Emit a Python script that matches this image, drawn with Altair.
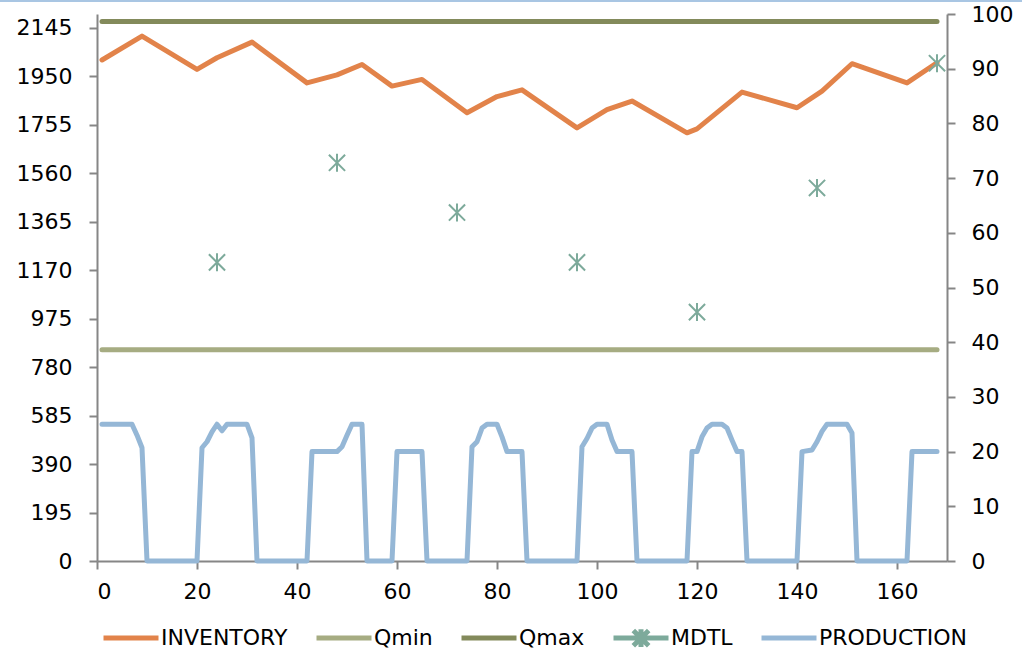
import altair as alt
import pandas as pd

# ---------------- data ----------------
series_names = ["INVENTORY", "Qmin", "Qmax", "MDTL", "PRODUCTION"]
series_colors = ["#E2834A", "#A6AC82", "#838A5B", "#7DAA9B", "#95B7D6"]

# inventory (left axis), vertices of the polyline
inv_t = [1, 9, 20, 24, 31, 42, 48, 53, 59, 65, 74, 80, 85, 96, 102, 107,
         118, 120, 129, 140, 145, 151, 162, 168]
inv_v = [2015, 2111, 1977, 2024, 2087, 1923, 1955, 1997, 1910, 1937, 1803,
         1868, 1895, 1742, 1815, 1850, 1722, 1738, 1886, 1823, 1890, 2000,
         1923, 2004]

# limits (left axis)
q_t = [1, 168]
qmin_v = [850, 850]
qmax_v = [2170, 2170]

# MDTL (right axis)
mdtl_t = [24, 48, 72, 96, 120, 144, 168]
mdtl_v = [54.6, 72.8, 63.7, 54.6, 45.5, 68.2, 91.0]

# production (right axis), vertices of the polyline
prod_t = [1, 7, 8, 9, 10,
          20, 21, 22, 23, 24, 25, 26, 30, 31, 32,
          42, 43, 48, 49, 50, 51, 53, 54,
          59, 60, 65, 66,
          74, 75, 76, 77, 78, 80, 81, 82, 85, 86,
          96, 97, 98, 99, 100, 102, 103, 104, 107, 108,
          118, 119, 120, 121, 122, 123, 125, 126, 127, 128, 129, 130,
          140, 141, 143, 144, 145, 146, 150, 151, 152,
          162, 163, 168]
prod_v = [25, 25, 23, 20.7, 0,
          0, 20.7, 21.8, 23.6, 25, 23.8, 25, 25, 22.5, 0,
          0, 20, 20, 20.9, 23, 25, 25, 0,
          0, 20, 20, 0,
          0, 20.9, 21.8, 24.3, 25, 25, 22.7, 20, 20, 0,
          0, 20.9, 22.4, 24.3, 25, 25, 22.1, 20, 20, 0,
          0, 20, 20, 22.7, 24.3, 25, 25, 24.3, 22.1, 20, 20, 0,
          0, 20, 20.3, 21.8, 23.7, 25, 25, 23.4, 0,
          0, 20, 20]

x_ticks = [0, 20, 40, 60, 80, 100, 120, 140, 160]
left_ticks = [0, 195, 390, 585, 780, 975, 1170, 1365, 1560, 1755, 1950, 2145]
right_ticks = [0, 10, 20, 30, 40, 50, 60, 70, 80, 90, 100]

# ---------------- styling ----------------
FONT = "DejaVu Sans"
AXIS_GREY = "#868686"
STAR = "M0,-1L0,1M-0.9,-0.9L0.9,0.9M-0.9,0.9L0.9,-0.9"
# invisible zero-length segments give every legend symbol the same height
LINE_SYM = "M-1,0L1,0M0,-0.32L0,-0.32M0,0.32L0,0.32"
MDTL_SYM = "M-1,0L1,0M0,-0.32L0,0.32M-0.28,-0.28L0.28,0.28M-0.28,0.28L0.28,-0.28"

x_enc = alt.X("t:Q", scale=alt.Scale(domain=[0, 170], nice=False, zero=False),
              axis=alt.Axis(values=x_ticks, orient="bottom", labelPadding=12,
                            title=None))

left_scale = alt.Scale(domain=[0, 2200], nice=False, zero=True)
left_axis = alt.Axis(values=left_ticks, orient="left", labelPadding=17,
                     format="d", title=None)
right_scale = alt.Scale(domain=[0, 100], nice=False, zero=True)
right_axis = alt.Axis(values=right_ticks, orient="right", labelPadding=16,
                      format="d", title=None)

line_style = dict(strokeWidth=5, strokeCap="round", strokeJoin="round")

inv_df = pd.DataFrame({"t": inv_t, "v": inv_v})
qmin_df = pd.DataFrame({"t": q_t, "v": qmin_v})
qmax_df = pd.DataFrame({"t": q_t, "v": qmax_v})
mdtl_df = pd.DataFrame({"t": mdtl_t, "v": mdtl_v})
prod_df = pd.DataFrame({"t": prod_t, "v": prod_v})

y_left = alt.Y("v:Q", scale=left_scale, axis=left_axis)
y_right = alt.Y("v:Q", scale=right_scale, axis=right_axis)

qmin_line = alt.Chart(qmin_df).mark_line(color=series_colors[1], **line_style).encode(x=x_enc, y=y_left)
qmax_line = alt.Chart(qmax_df).mark_line(color=series_colors[2], **line_style).encode(x=x_enc, y=y_left)
inv_line = alt.Chart(inv_df).mark_line(color=series_colors[0], **line_style).encode(x=x_enc, y=y_left)
left = alt.layer(qmin_line, qmax_line, inv_line)

prod_line = alt.Chart(prod_df).mark_line(color=series_colors[4], **line_style).encode(x=x_enc, y=y_right)
mdtl_pts = alt.Chart(mdtl_df).mark_point(
    shape=STAR, filled=False, size=324, strokeWidth=2, opacity=1,
    color=series_colors[3]
).encode(x=x_enc, y=y_right)
right = alt.layer(prod_line, mdtl_pts)

legend_props = dict(orient="none", legendX=4, legendY=594,
                    direction="horizontal", title=None,
                    symbolSize=3025, symbolStrokeWidth=5,
                    labelFont=FONT, labelFontSize=22,
                    labelColor="#000000", labelOffset=0,
                    columnPadding=18, padding=0, symbolOpacity=1)

# legend only layer (no drawn marks, legend comes from explicit scale domain)
legend_df = pd.DataFrame({"series": series_names})
legend_layer = alt.Chart(legend_df).mark_point(
    filled=False, strokeWidth=5, opacity=1
).encode(
    color=alt.Color("series:N",
                    scale=alt.Scale(domain=series_names, range=series_colors),
                    legend=alt.Legend(**legend_props)),
    shape=alt.Shape("series:N",
                    scale=alt.Scale(domain=series_names,
                                    range=[LINE_SYM, LINE_SYM, LINE_SYM, MDTL_SYM, LINE_SYM]),
                    legend=alt.Legend(**legend_props)),
).transform_filter("false")

frame = alt.Chart(legend_df).mark_rule(color="#A9C6E3", strokeWidth=2).encode(
    x=alt.value(-97), x2=alt.value(925), y=alt.value(-13)
)

chart = alt.layer(left, right, legend_layer, frame).resolve_scale(
    y="independent"
).properties(
    width=850, height=547,
    autosize=alt.AutoSizeParams(type="none"),
    padding={"left": 97, "top": 14, "right": 75, "bottom": 88},
    background="white",
).configure_view(
    stroke=None
).configure_axis(
    grid=False,
    domainColor=AXIS_GREY, domainWidth=2,
    tickColor=AXIS_GREY, tickWidth=2, tickSize=8,
    labelFont=FONT, labelFontSize=22, labelColor="#000000",
)

chart.save("out.html", embed_options={"renderer": "svg", "actions": False})
